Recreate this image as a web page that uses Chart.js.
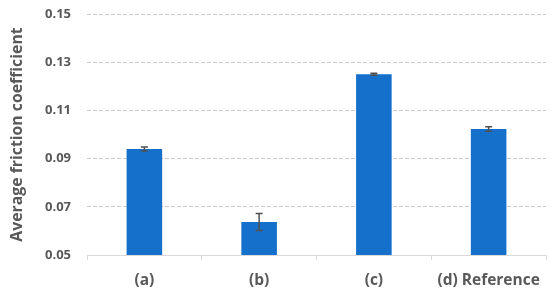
<!DOCTYPE html>
<html><head><meta charset="utf-8">
<script src="https://cdn.jsdelivr.net/npm/chart.js@4"></script>
<style>html,body{margin:0;padding:0;background:#fff}#wrap{width:550px;height:295px}</style>
</head><body><div id="wrap"><canvas id="c" width="550" height="295"></canvas></div>
<script>
const categories = ["(a)", "(b)", "(c)", "(d) Reference"];
const frictionValues = [0.0940, 0.0637, 0.1250, 0.1023];
const frictionErrors = [0.0008, 0.0035, 0.0004, 0.0009];
const yTicks = [0.05, 0.07, 0.09, 0.11, 0.13, 0.15];

const errorBarPlugin = {
  id: 'errorBars',
  afterDatasetsDraw(chart) {
    const ctx = chart.ctx, x = chart.scales.x, y = chart.scales.y;
    ctx.save();
    ctx.strokeStyle = '#505050';
    ctx.lineWidth = 1.5;
    frictionValues.forEach((v, i) => {
      const px = x.getPixelForValue(i);
      const top = y.getPixelForValue(v + frictionErrors[i]);
      const bot = y.getPixelForValue(v - frictionErrors[i]);
      ctx.beginPath();
      ctx.moveTo(px, top); ctx.lineTo(px, bot);
      ctx.moveTo(px - 3.5, top); ctx.lineTo(px + 3.5, top);
      ctx.moveTo(px - 3.5, bot); ctx.lineTo(px + 3.5, bot);
      ctx.stroke();
    });
    ctx.restore();
  }
};

new Chart(document.getElementById('c'), {
  type: 'bar',
  data: {
    labels: categories,
    datasets: [{
      data: frictionValues,
      backgroundColor: '#1570CB',
      borderWidth: 0,
      barPercentage: 0.31,
      categoryPercentage: 1.0
    }]
  },
  options: {
    responsive: false,
    animation: false,
    layout: { autoPadding: false, padding: { top: 14, right: 4, left: 0, bottom: 0 } },
    plugins: { legend: { display: false }, tooltip: { enabled: false } },
    scales: {
      x: {
        grid: { display: true, drawOnChartArea: false, offset: true, tickLength: 5, color: '#D9D9D9' },
        border: { color: '#D9D9D9' },
        ticks: { color: '#595959', font: { family: 'Open Sans', weight: 'bold', size: 15.5 }, padding: 11 },
        afterFit(s) { s.height = 40; s.paddingLeft = 0; s.paddingRight = 0; }
      },
      y: {
        min: 0.05, max: 0.15,
        afterBuildTicks(s) { s.ticks = yTicks.map(v => ({ value: v })); },
        grid: { color: '#C9C9C9', drawTicks: false, lineWidth: 1 },
        border: { display: false, dash: [4, 2] },
        ticks: { color: '#595959', font: { family: 'Open Sans', weight: 'bold', size: 13 }, padding: 16,
          callback: v => v.toFixed(2) },
        title: { display: true, text: 'Average friction coefficient', color: '#595959',
          font: { family: 'Open Sans', weight: 'bold', size: 15.8 }, padding: { top: 8, bottom: 0 } },
        afterFit(s) { s.width = 87; s.paddingTop = 0; s.paddingBottom = 0; }
      }
    }
  },
  plugins: [errorBarPlugin]
});
</script></body></html>
